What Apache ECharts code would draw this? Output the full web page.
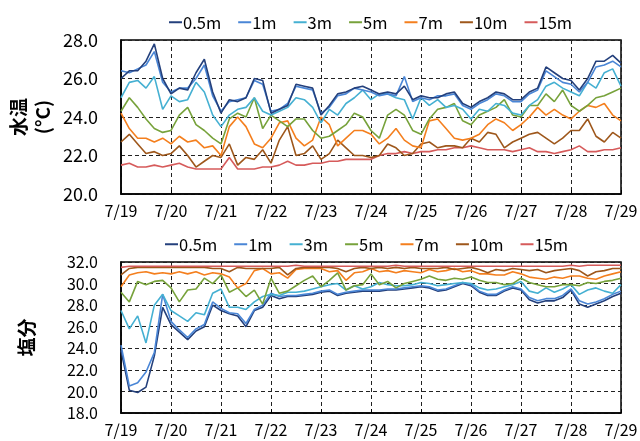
<!DOCTYPE html>
<html>
<head>
<meta charset="utf-8">
<script src="https://cdn.jsdelivr.net/npm/echarts@6/dist/echarts.min.js"></script>
<style>html,body{margin:0;padding:0;background:#fff}#c{width:640px;height:441px}</style>
</head>
<body>
<div id="c"></div>
<script>
var dayLabels = ['7/19','7/20','7/21','7/22','7/23','7/24','7/25','7/26','7/27','7/28','7/29'];
var depths = ['0.5m','1m','3m','5m','7m','10m','15m'];
var colors = ['#24407c','#4a86d6','#45b0d2','#77a23b','#f47f1e','#9e571b','#d65b5b'];
var stepsPerDay = 6; // 4-hourly readings

// Water temperature (°C)
var temp05 = [26.0,26.4,26.4,26.9,27.8,26.0, 25.2,25.5,25.4,26.3,27.0,25.3, 24.2,24.9,24.8,25.0,26.0,25.9, 24.2,24.4,24.6,25.7,25.6,25.5, 24.1,24.6,25.2,25.3,25.5,25.6, 25.4,25.2,25.3,25.2,25.6,24.9, 25.1,25.0,25.0,25.2,25.3,24.7, 24.5,24.8,25.0,25.3,25.2,24.9, 24.9,25.3,25.5,26.6,26.3,26.0, 25.9,25.4,26.0,26.9,26.9,27.2, 26.8];
var temp1 = [26.4,26.3,26.5,26.7,27.4,25.8, 25.3,25.5,25.5,26.0,26.7,25.1, 24.3,24.8,24.9,25.0,25.9,25.7, 24.3,24.4,24.7,25.6,25.5,25.4, 24.2,24.5,25.1,25.2,25.5,25.4, 25.3,25.1,25.2,25.1,26.1,24.8, 25.0,24.9,25.1,25.1,25.2,24.6, 24.4,24.7,24.9,25.2,25.1,24.8, 24.8,25.2,25.4,26.4,26.1,25.8, 25.7,25.3,25.8,26.6,26.7,26.9, 26.6];
var temp3 = [25.0,25.8,25.9,25.5,26.1,24.4, 25.1,24.8,24.9,25.8,25.3,24.1, 23.5,24.1,24.4,24.5,25.0,24.3, 24.1,24.3,24.5,25.0,24.9,24.5, 23.7,24.4,24.1,24.7,25.0,25.4, 24.9,25.2,25.2,25.0,24.9,23.9, 25.0,24.6,24.9,24.5,24.6,24.4, 23.9,24.4,24.3,24.7,24.6,24.2, 24.1,24.6,24.9,25.6,25.8,25.5, 25.3,25.1,25.8,25.5,26.3,26.5, 25.6];
var temp5 = [24.3,25.0,24.5,23.9,23.4,23.2, 23.3,24.1,24.5,23.6,23.3,22.9, 22.6,23.9,24.2,24.0,25.0,23.4, 24.1,23.8,23.5,23.9,23.9,23.3, 22.9,23.0,23.3,23.6,24.2,24.0, 23.3,22.9,24.1,24.4,24.1,23.3, 23.1,23.9,24.4,24.5,24.7,23.8, 23.6,24.1,24.3,24.5,24.9,24.1, 24.0,24.6,24.6,25.2,24.8,25.4, 24.6,24.3,24.6,25.0,25.1,25.3, 25.5];
var temp7 = [24.2,23.4,22.9,22.9,22.7,22.9, 22.6,23.0,22.7,22.8,22.4,22.5, 22.0,23.5,24.0,23.5,22.6,22.4, 22.9,23.7,23.8,22.9,22.5,22.8, 24.0,23.6,22.5,22.9,23.3,23.3, 23.1,22.6,22.9,23.4,22.8,22.5, 22.4,23.8,23.9,23.4,22.9,22.8, 22.9,23.1,23.6,23.9,23.7,23.3, 23.6,24.0,24.5,24.1,24.4,24.1, 23.9,24.3,24.6,24.5,24.7,24.1, 23.8];
var temp10 = [22.7,23.1,22.6,22.1,22.2,22.0, 22.1,22.5,22.0,21.4,21.7,22.0, 21.9,22.6,21.5,21.9,21.8,22.3, 21.6,22.8,23.5,22.0,22.1,22.5, 21.8,22.1,22.8,22.4,22.0,22.0, 21.9,22.0,22.6,22.4,22.0,22.1, 22.6,22.7,22.4,22.5,22.5,22.4, 22.9,22.7,23.2,23.1,22.4,22.7, 22.9,23.1,23.2,22.9,22.6,22.9, 23.3,23.3,23.9,23.0,22.7,23.2, 22.9];
var temp15 = [21.5,21.6,21.4,21.4,21.5,21.4, 21.5,21.6,21.4,21.3,21.3,21.3, 21.3,21.9,21.3,21.3,21.3,21.4, 21.4,21.5,21.7,21.5,21.5,21.6, 21.6,21.7,21.7,21.8,21.8,21.8, 21.8,22.0,22.1,22.1,22.2,22.1, 22.2,22.2,22.3,22.3,22.4,22.4, 22.5,22.4,22.3,22.3,22.3,22.2, 22.3,22.4,22.2,22.2,22.1,22.2, 22.3,22.5,22.2,22.2,22.3,22.3, 22.4];

// Salinity
var sal05 = [23.8,20.1,19.9,20.4,23.3,27.8, 26.2,25.5,24.8,25.6,26.0,28.0, 27.5,27.2,27.0,26.0,27.5,27.8, 28.9,28.6,28.8,28.8,28.9,29.0, 29.2,29.3,28.9,29.1,29.2,29.3, 29.3,29.3,29.4,29.4,29.5,29.6, 29.7,29.6,29.3,29.4,29.7,30.0, 29.8,29.2,28.9,28.9,29.3,29.6, 29.4,28.5,28.2,28.4,28.4,28.7, 29.4,28.1,27.8,28.1,28.4,28.8, 29.1];
var sal1 = [24.3,20.5,20.8,21.8,23.6,29.0, 26.5,25.7,25.0,25.8,26.2,28.3, 27.7,27.3,27.2,26.3,27.6,28.0, 29.1,28.8,28.9,28.9,29.0,29.1, 29.3,29.4,29.0,29.2,29.3,29.4, 29.4,29.4,29.5,29.5,29.6,29.7, 29.8,29.7,29.4,29.5,29.8,30.1, 29.9,29.3,29.0,29.0,29.4,29.7, 29.5,28.7,28.4,28.6,28.6,28.9, 29.5,28.4,28.1,28.3,28.6,29.0, 29.3];
var sal3 = [27.5,25.8,27.0,24.5,28.0,29.0, 27.5,27.0,26.5,27.3,27.1,29.1, 29.5,27.8,27.8,27.6,28.3,28.8, 29.0,28.9,29.2,29.2,29.3,29.5, 29.7,29.9,30.0,29.4,29.8,29.5, 29.7,30.1,29.9,29.8,29.8,29.9, 30.1,30.0,29.8,29.9,30.0,30.1, 30.0,29.6,29.4,29.5,29.7,29.9, 30.2,29.3,29.1,29.6,29.2,29.5, 29.9,29.0,29.4,29.6,29.3,29.1, 29.9];
var sal5 = [29.2,28.3,30.2,29.9,30.2,30.3, 29.6,28.3,29.4,29.5,30.5,30.0, 30.8,29.2,29.6,28.8,29.4,28.1, 30.5,29.1,29.3,29.8,30.3,30.7, 29.7,30.3,31.0,29.4,29.8,29.9, 30.9,29.9,30.2,29.6,30.0,30.2, 30.4,30.7,30.4,30.3,30.5,30.4, 30.6,30.3,30.1,30.1,29.9,30.0, 30.5,30.1,29.9,29.7,29.7,29.9, 29.9,29.8,30.1,30.0,30.2,30.3, 30.5];
var sal7 = [29.7,30.8,31.0,31.1,30.9,31.0, 30.9,31.1,30.9,31.1,30.8,31.0, 30.9,30.6,29.6,30.0,31.2,31.4, 30.9,31.0,30.5,31.3,31.4,31.4, 31.4,31.1,31.2,30.3,31.0,31.1, 31.4,31.1,31.2,31.0,31.2,31.1, 31.0,31.3,31.1,31.2,31.4,31.1, 31.2,30.9,30.9,30.8,30.8,31.1, 30.9,30.6,30.5,30.4,30.6,30.5, 30.7,30.7,30.5,30.4,30.7,30.9, 31.1];
var sal10 = [30.8,31.4,31.5,31.5,31.5,31.5, 31.5,31.5,31.5,31.5,31.5,31.4, 31.4,31.1,31.5,31.4,31.4,31.4, 31.4,31.5,30.8,31.4,31.5,31.5, 31.5,31.5,31.4,31.1,31.4,31.5, 31.4,31.5,31.4,31.5,31.4,31.5, 31.4,31.4,31.4,31.5,31.3,31.4, 31.5,31.3,31.0,31.3,31.2,31.4, 31.3,31.2,31.3,31.0,31.2,31.3, 31.4,31.2,30.7,31.1,31.2,31.4, 31.4];
var sal15 = [31.5,31.6,31.6,31.6,31.6,31.6, 31.6,31.6,31.6,31.6,31.6,31.6, 31.6,31.6,31.6,31.6,31.6,31.6, 31.6,31.6,31.6,31.7,31.6,31.6, 31.6,31.6,31.6,31.6,31.6,31.6, 31.6,31.6,31.6,31.7,31.6,31.6, 31.6,31.6,31.6,31.6,31.6,31.6, 31.6,31.6,31.6,31.6,31.6,31.6, 31.6,31.6,31.6,31.6,31.6,31.6, 31.7,31.6,31.7,31.7,31.7,31.7, 31.7];

var tempSeries = [temp05,temp1,temp3,temp5,temp7,temp10,temp15];
var salSeries = [sal05,sal1,sal3,sal5,sal7,sal10,sal15];

function pts(arr){ return arr.map(function(v,i){ return [i/stepsPerDay, v]; }); }

var font = '"Noto Sans CJK JP", "Noto Sans", sans-serif';
var splitStyle = {show:true, lineStyle:{color:'#222', width:1, type:[4,3]}};

function xAxis(gi){
  return {type:'value', gridIndex:gi, min:0, max:10, interval:1,
    axisLine:{show:true, lineStyle:{color:'#000', width:1.5}},
    axisTick:{show:true, inside:true, length:4, lineStyle:{color:'#000'}},
    axisLabel:{color:'#000', fontFamily:font, fontSize:16, margin:9,
      formatter:function(v){ return dayLabels[Math.round(v)]; }},
    splitLine:splitStyle};
}
function yAxis(gi,min,max,name,gap,fs){
  return {type:'value', gridIndex:gi, min:min, max:max, interval:2,
    name:name, nameLocation:'middle', nameRotate:90, nameGap:gap, nameMoveOverlap:false,
    nameTextStyle:{color:'#000', fontFamily:font, fontSize:19, fontWeight:'bold', lineHeight:24},
    axisLine:{show:true, lineStyle:{color:'#000', width:1.5}},
    axisTick:{show:false},
    axisLabel:{color:'#000', fontFamily:font, fontSize:fs, margin:23,
      formatter:function(v){ return v.toFixed(1); }},
    splitLine:splitStyle};
}

var series = [];
depths.forEach(function(d,k){
  series.push({name:d, type:'line', xAxisIndex:0, yAxisIndex:0, data:pts(tempSeries[k]),
    showSymbol:false, symbol:'none', lineStyle:{width:1.6, color:colors[k]}, itemStyle:{color:colors[k]}, z:10-k, animation:false});
});
depths.forEach(function(d,k){
  series.push({name:d, type:'line', xAxisIndex:1, yAxisIndex:1, data:pts(salSeries[k]),
    showSymbol:false, symbol:'none', lineStyle:{width:1.6, color:colors[k]}, itemStyle:{color:colors[k]}, z:3+k, animation:false});
});

var legendCommon = {data:depths, icon:'rect', itemWidth:13, itemHeight:2, itemGap:17,
  textStyle:{color:'#000', fontFamily:font, fontSize:16.5, padding:[0,0,0,-4]}, selectedMode:false};

var chart = echarts.init(document.getElementById('c'), null, {renderer:'canvas'});
chart.setOption({
  backgroundColor:'#fff',
  animation:false,
  legend:[
    Object.assign({left:164, top:9}, legendCommon),
    Object.assign({left:160, top:231}, legendCommon)
  ],
  grid:[
    {left:121, top:40, width:500, height:154, show:true, borderColor:'#000', borderWidth:1.5, containLabel:false, outerBoundsMode:'none'},
    {left:121, top:262, width:500, height:151, show:true, borderColor:'#000', borderWidth:1.5, containLabel:false, outerBoundsMode:'none'}
  ],
  xAxis:[xAxis(0), xAxis(1)],
  yAxis:[yAxis(0,20,28,'水温\n(°C)',66,18), yAxis(1,18,32,'塩分',82,16)],
  series:series
});
</script>
</body>
</html>
